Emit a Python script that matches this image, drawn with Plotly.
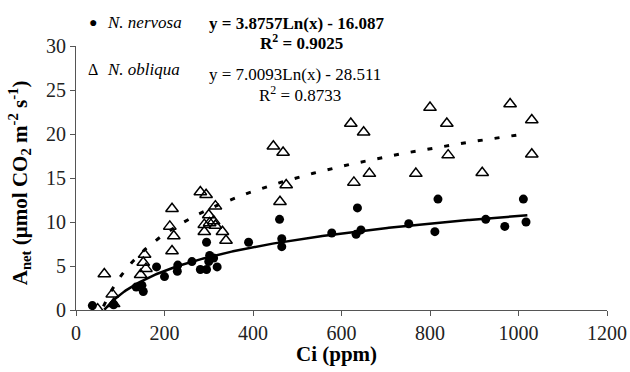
import numpy as np
import plotly.graph_objects as go

# N. nervosa (filled circles)
nerv_ci = [37, 85, 136, 149, 152, 182, 200, 229, 230, 262, 281, 295, 295, 300, 302, 311, 319,
           390, 460, 465, 465, 578, 633, 636, 644, 752, 811, 818, 926, 969, 1011, 1017]
nerv_a = [0.5, 0.6, 2.6, 2.8, 2.1, 4.9, 3.8, 4.4, 5.1, 5.5, 4.6, 7.7, 4.6, 5.5, 6.2, 5.9, 4.9,
          7.7, 10.3, 8.1, 7.2, 8.75, 8.6, 11.6, 9.1, 9.8, 8.9, 12.6, 10.3, 9.5, 12.6, 10.0]

# N. obliqua (open triangles)
obl_ci = [49, 64, 82, 85, 146, 152, 155, 158, 212, 217, 217, 221, 281, 290, 290, 294, 300, 302,
          311, 315, 315, 331, 339, 446, 461, 468, 475, 621, 628, 650, 663, 768, 800, 838, 841,
          918, 981, 1030, 1030]
obl_a = [0.1, 4.1, 1.8, 0.7, 4.0, 5.4, 6.3, 4.7, 9.5, 11.5, 6.7, 8.4, 13.4, 9.7, 8.9, 13.1, 10.8, 9.9,
         10.1, 11.8, 9.6, 8.9, 7.9, 18.6, 12.3, 17.9, 14.2, 21.2, 14.5, 20.2, 15.5, 15.5, 23.0, 21.2, 17.6,
         15.6, 23.4, 21.6, 17.7]

# Logarithmic trendline coefficients as printed on the chart: y = a*Ln(x) + b
nerv_fit = [3.8757, -16.087]
obl_fit = [7.0093, -28.511]
fit_range = [64, 1020]

xs = np.linspace(fit_range[0], fit_range[1], 300)
nerv_line = nerv_fit[0] * np.log(xs) + nerv_fit[1]
obl_xs = np.linspace(62, fit_range[1], 300)
obl_line = obl_fit[0] * np.log(obl_xs) + obl_fit[1]

FONT = "Liberation Serif, Times New Roman, serif"

# plot-area geometry in pixels (for placing texts)
L, R, T, B = 75.5, 607, 46, 310.5
PW, PH = R - L, B - T

def px(xp):
    return (xp - L) / PW

def py(yp):
    return (B - yp) / PH

fig = go.Figure()
fig.add_trace(go.Scatter(x=xs, y=nerv_line, mode="lines",
                         line=dict(color="black", width=2.5), hoverinfo="skip"))
fig.add_trace(go.Scatter(x=obl_xs, y=obl_line, mode="lines",
                         line=dict(color="black", width=3, dash="5px,12px"), hoverinfo="skip"))
fig.add_trace(go.Scatter(x=nerv_ci, y=nerv_a, mode="markers", name="N. nervosa",
                         marker=dict(symbol="circle", size=9, color="black")))
fig.add_trace(go.Scatter(x=obl_ci, y=obl_a, mode="markers", name="N. obliqua",
                         marker=dict(symbol="triangle-up-open", size=11, color="black",
                                     line=dict(width=1.5, color="black"))))

axis_common = dict(showline=True, linecolor="#555", linewidth=1, ticks="outside", ticklen=5,
                   tickcolor="#555", showgrid=False, zeroline=False, automargin=False,
                   tickfont=dict(family=FONT, size=20, color="#222"))

fig.update_layout(
    width=630, height=372,
    margin=dict(l=L, r=630 - R, t=T, b=372 - B, autoexpand=False),
    paper_bgcolor="white", plot_bgcolor="white",
    font=dict(family=FONT),
    showlegend=False,
    xaxis=dict(range=[0, 1200], dtick=200, **axis_common),
    yaxis=dict(range=[0, 30], dtick=5, **axis_common),
)

def ann(text, xp, yp, size=17, xanchor="left", **kw):
    fig.add_annotation(text=text, x=px(xp), y=py(yp), xref="paper", yref="paper", showarrow=False,
                       xanchor=xanchor, yanchor="middle",
                       font=dict(family=FONT, size=size, color="black"), **kw)

# legend-like labels
ann("●", 93, 22, size=14, xanchor="center")
ann("<i>N. nervosa</i>", 105, 22.5)
ann("Δ", 93, 69.5, size=16, xanchor="center")
ann("<i>N. obliqua</i>", 105, 69.5)

# equations
ann("<b>y = 3.8757Ln(x) - 16.087</b>", 296.5, 23, xanchor="center")
ann("<b>R<sup>2</sup> = 0.9025</b>", 301, 42, xanchor="center")
ann("y = 7.0093Ln(x) - 28.511", 294.5, 75, xanchor="center")
ann("R<sup>2</sup> = 0.8733", 299.5, 94, xanchor="center")

# axis titles
ann("<b>Ci (ppm)</b>", 336.5, 355, size=21, xanchor="center")
ann("<b>A<sub>net</sub> (µmol CO<sub>2</sub> m<sup>-2</sup> s<sup>-1</sup>)</b>", 19, 183, size=21,
    xanchor="center", textangle=-90)

fig.write_html("out.html")
